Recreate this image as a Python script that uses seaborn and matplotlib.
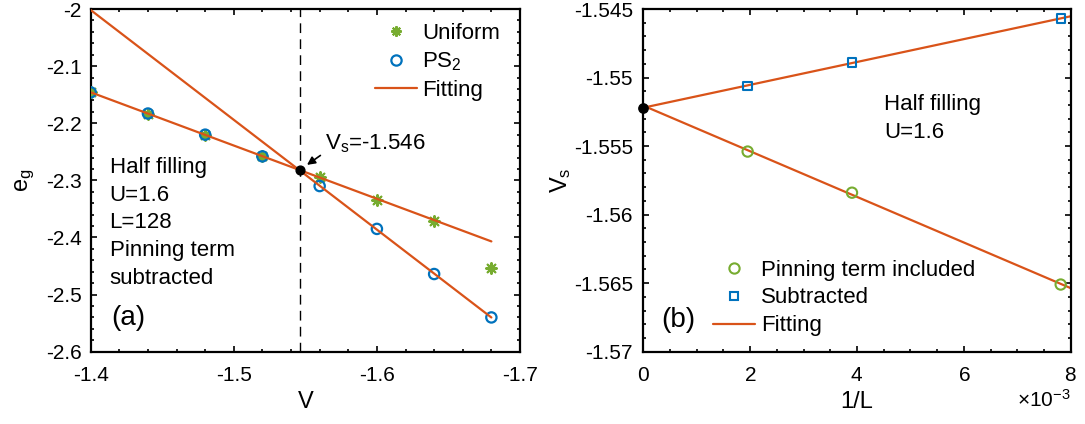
import numpy as np
import pandas as pd
import matplotlib
matplotlib.use("Agg")
from matplotlib import pyplot as plt
from matplotlib.ticker import MultipleLocator, FuncFormatter, ScalarFormatter
import seaborn as sns

# panel (a): ground state energy vs V, L=128
V = [-1.40, -1.44, -1.48, -1.52, -1.56, -1.60, -1.64, -1.68]
eg_uniform = [-2.146, -2.183, -2.220, -2.258, -2.295, -2.334, -2.372, -2.454]
eg_ps2 = [-2.146, -2.183, -2.220, -2.258, -2.310, -2.385, -2.464, -2.540]
vs_cross = -1.546
eg_cross = -2.282

# panel (b): finite size scaling of Vs
inv_L = [1 / 512, 1 / 256, 1 / 128]
vs_included = [-1.5554, -1.5584, -1.5651]
vs_subtracted = [-1.5506, -1.5489, -1.5457]
vs_limit = -1.5522

GREEN = "#77AC30"
BLUE = "#0072BD"
ORANGE = "#D95319"

sns.set_style("ticks")
plt.rcParams["font.family"] = ["Liberation Sans", "DejaVu Sans"]
plt.rcParams["mathtext.fontset"] = "custom"
plt.rcParams["mathtext.rm"] = "Liberation Sans"
plt.rcParams["mathtext.it"] = "Liberation Sans:italic"
plt.rcParams["axes.unicode_minus"] = False
plt.rcParams["text.color"] = "black"
plt.rcParams["axes.labelcolor"] = "black"

TICK_FS = 15
TEXT_FS = 16
LABEL_FS = 17

fig = plt.figure(figsize=(10.85, 4.24), dpi=100)
W, H = 1085, 424
ax1 = fig.add_axes([90.7 / W, (H - 351.7) / H, (520 - 90.7) / W, (351.7 - 9) / H])
ax2 = fig.add_axes([643.3 / W, (H - 351.7) / H, (1070.7 - 643.3) / W, (351.7 - 9) / H])


def style_axes(ax, ypad):
    for s in ax.spines.values():
        s.set_linewidth(1.6)
        s.set_color("black")
        s.set_visible(True)
    ax.tick_params(which="both", direction="in", top=True, right=True,
                   labelsize=TICK_FS, width=1.2, colors="black")
    ax.tick_params(which="major", length=4.5)
    ax.tick_params(which="minor", length=2.5)
    ax.tick_params(axis="x", which="major", pad=10)
    ax.tick_params(axis="y", which="major", pad=ypad)


# ---- panel (a)
df_a = pd.DataFrame({"V": V, "uniform": eg_uniform, "ps2": eg_ps2})
xfit = np.array([V[0], V[-1]])
p_low = np.polyfit(V[:4], eg_uniform[:4], 1)
p_high = np.polyfit(V[4:], eg_ps2[4:], 1)

sns.scatterplot(data=df_a, x="V", y="uniform", ax=ax1, marker=(8, 2, 0), s=60,
                color=GREEN, edgecolor=GREEN, linewidth=1.5, zorder=3)
sns.scatterplot(data=df_a, x="V", y="ps2", ax=ax1, marker="o", s=55,
                facecolors="none", edgecolor=BLUE, linewidth=1.6, zorder=3)
sns.lineplot(x=xfit, y=np.polyval(p_low, xfit), ax=ax1, color=ORANGE, lw=1.6, zorder=4)
sns.lineplot(x=xfit, y=np.polyval(p_high, xfit), ax=ax1, color=ORANGE, lw=1.6, zorder=4)
ax1.axvline(vs_cross, color="black", lw=1.0, ls=(0, (7, 4.5)), zorder=2)
ax1.scatter([vs_cross], [eg_cross], s=40, color="black", zorder=5)
ax1.annotate(r"V$_\mathrm{s}$=-1.546", xy=(vs_cross, eg_cross), xytext=(-1.5636, -2.2451),
             fontsize=TEXT_FS, ha="left", va="baseline",
             arrowprops=dict(arrowstyle="-|>", color="black", lw=1.2, relpos=(0, 0.1),
                             shrinkA=1, shrinkB=6.5, mutation_scale=12))

ax1.set_xlim(-1.4, -1.7)
ax1.set_ylim(-2.6, -2.0)
ax1.xaxis.set_major_locator(MultipleLocator(0.1))
ax1.xaxis.set_minor_locator(MultipleLocator(0.02))
ax1.yaxis.set_major_locator(MultipleLocator(0.1))
ax1.yaxis.set_minor_locator(MultipleLocator(0.02))
fmt = FuncFormatter(lambda v, p: "{:g}".format(round(v, 4)))
ax1.xaxis.set_major_formatter(fmt)
ax1.yaxis.set_major_formatter(fmt)
ax1.set_xlabel("V", fontsize=LABEL_FS)
ax1.set_ylabel(r"e$_\mathrm{g}$", fontsize=LABEL_FS)
ax1.xaxis.set_label_coords(0.5, -0.115)
ax1.yaxis.set_label_coords(-0.125, 0.5)
style_axes(ax1, 6.5)

# baseline of a multi-line text is the baseline of its last line
ax1.text(0.044, 0.198, "Half filling\nU=1.6\nL=128\nPinning term\nsubtracted",
         transform=ax1.transAxes, fontsize=TEXT_FS, va="baseline", ha="left", linespacing=1.42)
ax1.text(0.047, 0.077, "(a)", transform=ax1.transAxes, fontsize=20, va="baseline", ha="left")

h_u = plt.Line2D([], [], ls="", marker=(8, 2, 0), ms=7.5, mec=GREEN, mew=1.5)
h_p = plt.Line2D([], [], ls="", marker="o", ms=7.4, mfc="none", mec=BLUE, mew=1.6)
h_f = plt.Line2D([], [], color=ORANGE, lw=1.6)
ax1.legend([h_u, h_p, h_f], ["Uniform", r"PS$_\mathrm{2}$", "Fitting"], loc="upper left",
           bbox_to_anchor=(0.6615, 0.96), frameon=False, fontsize=TEXT_FS,
           handlelength=1.9, handletextpad=0.25, labelspacing=0.31,
           borderpad=0, borderaxespad=0)

# ---- panel (b)
df_b = pd.DataFrame({"invL": inv_L, "included": vs_included, "subtracted": vs_subtracted})
xl = np.array([0.0, 0.008])
p_inc = np.polyfit(inv_L, vs_included, 1)
p_sub = np.polyfit(inv_L, vs_subtracted, 1)
sns.lineplot(x=xl, y=np.polyval(p_inc, xl), ax=ax2, color=ORANGE, lw=1.6, zorder=2)
sns.lineplot(x=xl, y=np.polyval(p_sub, xl), ax=ax2, color=ORANGE, lw=1.6, zorder=2)
sns.scatterplot(data=df_b, x="invL", y="included", ax=ax2, marker="o", s=55,
                facecolors="none", edgecolor=GREEN, linewidth=1.5, zorder=3)
sns.scatterplot(data=df_b, x="invL", y="subtracted", ax=ax2, marker="s", s=36,
                facecolors="none", edgecolor=BLUE, linewidth=1.5, zorder=3)
ax2.scatter([0], [vs_limit], s=45, color="black", zorder=5, clip_on=False)

ax2.set_xlim(0, 0.008)
ax2.set_ylim(-1.57, -1.545)
ax2.xaxis.set_major_locator(MultipleLocator(0.002))
ax2.xaxis.set_minor_locator(MultipleLocator(0.0005))
ax2.yaxis.set_major_locator(MultipleLocator(0.005))
ax2.yaxis.set_minor_locator(MultipleLocator(0.001))
sf = ScalarFormatter(useMathText=True)
sf.set_powerlimits((-2, 2))
ax2.xaxis.set_major_formatter(sf)
ax2.xaxis.get_offset_text().set_fontsize(TICK_FS)
ax2.yaxis.set_major_formatter(fmt)
ax2.set_xlabel("1/L", fontsize=LABEL_FS)
ax2.set_ylabel(r"V$_\mathrm{s}$", fontsize=LABEL_FS)
ax2.xaxis.set_label_coords(0.5, -0.115)
ax2.yaxis.set_label_coords(-0.164, 0.5)
style_axes(ax2, 7.5)

ax2.text(0.563, 0.624, "Half filling\nU=1.6", transform=ax2.transAxes, fontsize=TEXT_FS,
         va="baseline", ha="left", linespacing=1.42)
ax2.text(0.041, 0.0715, "(b)", transform=ax2.transAxes, fontsize=20, va="baseline", ha="left")

h_i = plt.Line2D([], [], ls="", marker="o", ms=7.4, mfc="none", mec=GREEN, mew=1.5)
h_s = plt.Line2D([], [], ls="", marker="s", ms=6, mfc="none", mec=BLUE, mew=1.5)
ax2.legend([h_i, h_s, h_f], ["Pinning term included", "Subtracted", "Fitting"],
           loc="upper left", bbox_to_anchor=(0.163, 0.269), frameon=False, fontsize=TEXT_FS,
           handlelength=1.9, handletextpad=0.25, labelspacing=0.31,
           borderpad=0, borderaxespad=0)

fig.savefig("out.png", dpi=100)
